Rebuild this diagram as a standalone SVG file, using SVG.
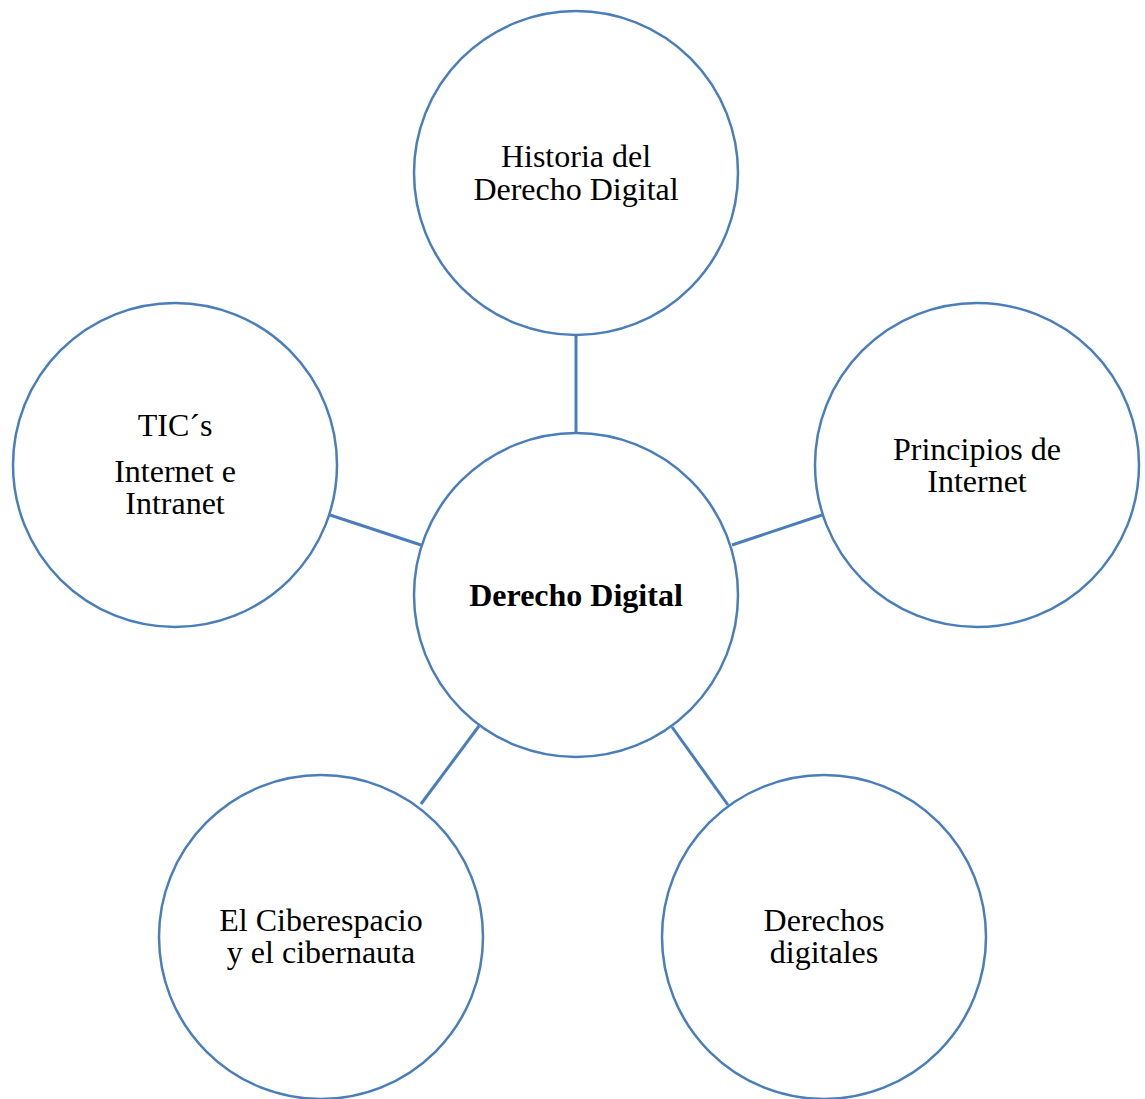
<svg xmlns="http://www.w3.org/2000/svg" width="1145" height="1099" viewBox="0 0 1145 1099">
<style>
.c{fill:#fff;stroke:#4a7ebb;stroke-width:2.5}
.l{stroke:#4a7ebb;stroke-width:3}
text{font-family:"Liberation Serif","Times New Roman",serif;font-size:32px;fill:#000;text-anchor:middle}
.b{font-weight:bold}
</style>
<rect width="1145" height="1099" fill="#fff"/>
<g id="connectors">
<line class="l" x1="576" y1="336" x2="576" y2="433"/>
<line class="l" x1="330" y1="515" x2="421" y2="545"/>
<line class="l" x1="732" y1="545" x2="822" y2="515"/>
<line class="l" x1="479" y1="726" x2="421" y2="804"/>
<line class="l" x1="672" y1="727" x2="728" y2="805"/>
</g>
<g id="center"><circle class="c" cx="576" cy="595" r="162"/><text class="b" x="576" y="606">Derecho Digital</text></g>
<g id="top"><circle class="c" cx="576" cy="173" r="162"/><text x="576" y="167">Historia del</text><text x="576" y="200">Derecho Digital</text></g>
<g id="left"><circle class="c" cx="175" cy="465" r="162"/><text x="175" y="436">TIC´s</text><text x="175" y="482">Internet e</text><text x="175" y="514">Intranet</text></g>
<g id="right"><circle class="c" cx="977" cy="465" r="162"/><text x="977" y="460">Principios de</text><text x="977" y="492">Internet</text></g>
<g id="bottomleft"><circle class="c" cx="321" cy="937" r="162"/><text x="321" y="931">El Ciberespacio</text><text x="321" y="963">y el cibernauta</text></g>
<g id="bottomright"><circle class="c" cx="824" cy="937" r="162"/><text x="824" y="931">Derechos</text><text x="824" y="963">digitales</text></g>
</svg>
